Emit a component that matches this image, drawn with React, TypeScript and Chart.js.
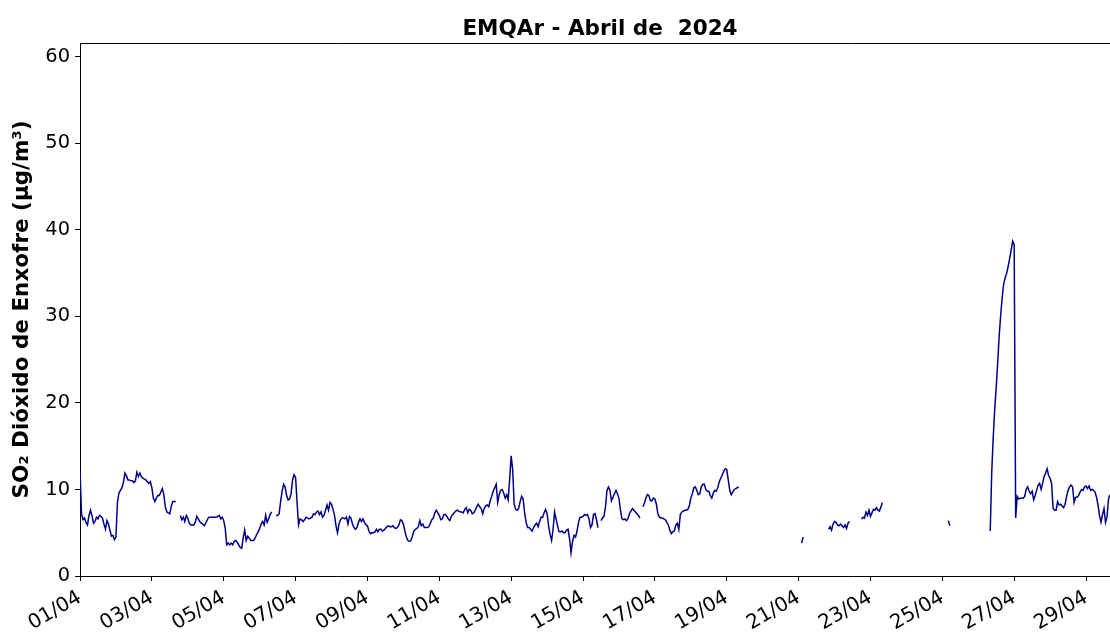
import React, { useEffect, useRef } from "react";
import { Chart, registerables } from "chart.js";

Chart.register(...registerables);

const chartTitle = "EMQAr - Abril de  2024";
const yAxisLabel = "SO₂ Dióxido de Enxofre (µg/m³)";

// hours since 01/04 00:00 at which date ticks are drawn
const tickHours = [0, 48, 96, 144, 192, 240, 288, 336, 384, 432, 480, 528, 576, 624, 672];
const tickLabels = ["01/04", "03/04", "05/04", "07/04", "09/04", "11/04", "13/04", "15/04", "17/04", "19/04", "21/04", "23/04", "25/04", "27/04", "29/04"];
const yTicks = [0, 10, 20, 30, 40, 50, 60];
const xMaxHour = 688;
const yMax = 61.6;

// hourly SO2 values (µg/m³), one array per day, null = no data
const day01 = [12.3, 7.2, 6.5, 6.7, 6.2, 5.9, 7.0, 7.6, 7.0, 6.1, 6.3, 6.8, 6.6, 7.0, 6.9, 6.7, 6.0, 5.4, 6.4, 6.0, 5.3, 4.6, 4.7, 4.2];
const day02 = [4.5, 8.5, 9.6, 9.9, 10.2, 10.8, 11.9, 11.6, 11.1, 11.1, 11.0, 11.0, 10.8, 11.0, 12.0, 11.5, 11.9, 11.5, 11.3, 11.2, 11.1, 10.9, 10.7, 10.9];
const day03 = [10.2, 9.0, 8.6, 9.0, 9.3, 9.3, 9.7, 10.1, 9.4, 8.0, 7.4, 7.3, 7.2, 8.1, 8.6, 8.6, 8.6, null, null, 7.0, 6.5, 6.8, 6.3, 7.0];
const day04 = [6.7, 6.1, 5.9, 5.9, 5.9, 6.2, 6.9, 6.6, 6.3, 6.1, 6.0, 5.8, 6.1, 6.5, 6.8, 6.8, 6.8, 6.8, 6.8, 6.8, 6.9, 7.0, 6.6, 6.8];
const day05 = [6.4, 5.5, 3.6, 3.8, 3.6, 3.8, 3.6, 4.0, 4.1, 3.9, 3.6, 3.3, 3.2, 4.4, 5.3, 4.1, 4.6, 4.4, 4.1, 4.1, 4.1, 4.4, 4.8, 5.1];
const day06 = [5.5, 6.0, 6.3, 5.9, 7.0, 6.2, 6.6, 7.1, 7.4, null, null, 7.0, 7.0, 7.2, 8.6, 9.8, 10.6, 10.3, 9.3, 8.8, 8.9, 9.5, 11.1, 11.7];
const day07 = [11.4, 8.5, 5.9, 6.6, 6.5, 6.3, 6.5, 6.8, 6.7, 6.6, 6.7, 6.8, 7.2, 7.1, 7.4, 7.5, 7.1, 7.4, 6.8, 7.0, 7.6, 8.2, 7.6, 8.5];
const day08 = [8.3, 7.7, 7.0, 5.8, 5.0, 6.0, 6.5, 6.7, 6.7, 6.6, 6.8, 6.0, 6.9, 6.7, 6.0, 5.6, 5.4, 5.6, 6.2, 6.6, 6.3, 6.6, 6.2, 5.9];
const day09 = [5.8, 5.2, 4.9, 5.0, 5.0, 5.1, 5.4, 5.1, 5.4, 5.4, 5.2, 5.3, 5.5, 5.7, 5.8, 5.7, 5.7, 5.8, 5.6, 5.5, 5.6, 5.9, 6.5, 6.4];
const day10 = [6.0, 5.2, 4.5, 4.1, 4.0, 4.1, 4.6, 5.2, 5.4, 5.5, 5.7, 6.4, 5.8, 6.0, 5.6, 5.6, 5.6, 5.7, 6.1, 6.5, 6.7, 7.3, 7.6, 7.3];
const day11 = [7.0, 6.5, 6.6, 7.1, 7.1, 6.9, 6.6, 6.4, 6.9, 7.1, 7.3, 7.5, 7.6, 7.5, 7.4, 7.4, 7.3, 7.7, 7.9, 7.3, 7.7, 7.6, 7.2, 7.3];
const day12 = [7.6, 8.0, 8.3, 8.0, 7.8, 7.2, 7.8, 8.1, 8.2, 8.0, 8.7, 9.2, 9.8, 10.2, 10.6, 8.5, 9.4, 9.9, 10.0, 9.6, 9.0, 9.4, 8.8, 11.2];
const day13 = [13.9, 12.3, 8.3, 7.7, 7.6, 7.8, 8.6, 9.2, 8.9, 7.3, 6.2, 5.6, 5.6, 5.4, 5.2, 5.6, 5.9, 6.1, 5.7, 6.3, 6.8, 6.8, 7.3, 7.7];
const day14 = [7.2, 5.8, 4.8, 4.1, 5.4, 7.4, 6.6, 5.8, 5.1, 5.1, 5.2, 5.0, 5.0, 5.3, 5.4, 4.3, 2.7, 4.0, 4.7, 4.5, 5.2, 6.2, 6.8, 6.8];
const day15 = [6.9, 7.1, 7.0, 7.1, 6.6, 5.6, 5.9, 7.1, 7.2, 6.5, 5.6, null, 6.4, 6.7, 6.9, 8.0, 9.9, 10.3, 9.9, 8.7, 9.1, 9.5, 9.9, 9.5];
const day16 = [9.0, 7.6, 6.6, 6.5, 6.6, 6.4, 6.6, 7.2, 7.5, 7.8, 7.6, 7.4, 7.2, 7.0, 6.7, null, 8.0, 8.4, 9.0, 9.4, 9.3, 8.7, 8.7, 9.0];
const day17 = [8.9, 8.3, 7.2, 6.8, 6.7, 6.7, 6.6, 6.5, 6.2, 5.9, 5.3, 4.9, 5.1, 5.2, 5.9, 6.1, 5.4, 7.1, 7.4, 7.5, 7.6, 7.6, 7.7, 8.1];
const day18 = [9.0, 9.5, 10.2, 10.3, 9.9, 9.4, 9.5, 10.3, 10.6, 10.6, 10.0, 9.8, 9.8, 9.3, 9.0, 9.6, 9.9, 9.8, 10.2, 10.9, 11.3, 11.7, 12.1, 12.4];
const day19 = [12.3, 11.1, 9.9, 9.4, 9.7, 10.0, 10.1, 10.2, 10.3, null, null, null, null, null, null, null, null, null, null, null, null, null, null, null];
const day20 = [null, null, null, null, null, null, null, null, null, null, null, null, null, null, null, null, null, null, null, null, null, null, null, null];
const day21 = [null, null, 3.8, 4.5, null, null, null, null, null, null, null, null, null, null, null, null, null, null, null, null, 5.4, 5.7, 5.3, 6.0];
const day22 = [6.3, 6.2, 5.9, 5.8, 6.0, 5.8, 5.6, 5.9, 5.5, 6.1, 6.3, null, null, null, null, null, null, null, 6.6, 6.8, 6.7, 7.4, 7.0, 7.6];
const day23 = [6.9, 7.3, 7.7, 7.6, 7.9, 7.6, 7.5, 8.0, 8.5, null, null, null, null, null, null, null, null, null, null, null, null, null, null, null];
const day24 = [null, null, null, null, null, null, null, null, null, null, null, null, null, null, null, null, null, null, null, null, null, null, null, null];
const day25 = [null, null, null, null, 6.4, 5.8, null, null, null, null, null, null, null, null, null, null, null, null, null, null, null, null, null, null];
const day26 = [null, null, null, null, null, null, null, null, 5.2, 12.0, 16.0, 19.3, 21.8, 24.7, 27.8, 30.2, 32.2, 33.8, 34.5, 35.0, 35.8, 36.7, 37.7, 38.7];
const day27 = [38.3, 6.7, 9.2, 8.9, 9.0, 9.0, 9.0, 9.2, 10.0, 10.3, 9.8, 9.5, 9.8, 8.8, 9.3, 9.9, 10.5, 10.7, 10.0, 10.7, 11.5, 11.9, 12.4, 11.6];
const day28 = [11.3, 10.7, 7.8, 7.6, 7.6, 8.6, 8.2, 8.3, 8.1, 7.9, 8.3, 9.2, 9.9, 10.3, 10.5, 10.3, 8.5, 9.1, 9.1, 9.3, 9.7, 10.0, 9.9, 10.3];
const day29 = [10.4, 10.1, 10.4, 9.9, 10.0, 9.9, 9.7, 9.1, 8.2, 7.0, 6.2, 7.1, 7.8, 6.2, 6.8, 8.9, 9.4];

const days = [day01, day02, day03, day04, day05, day06, day07, day08, day09, day10, day11, day12, day13, day14, day15,
  day16, day17, day18, day19, day20, day21, day22, day23, day24, day25, day26, day27, day28, day29];

const FONT = '"DejaVu Sans", "Noto Sans", sans-serif';

export default function App() {
  const canvasRef = useRef<HTMLCanvasElement | null>(null);

  useEffect(() => {
    document.body.style.margin = "0";
    const canvas = canvasRef.current;
    if (!canvas) return;

    const points = days.flatMap((arr, d) => arr.map((v, i) => ({ x: d * 24 + i, y: v })));

    const decor = {
      id: "decor",
      afterDraw(chart: any) {
        const { ctx, chartArea } = chart;
        ctx.save();
        // top spine
        ctx.strokeStyle = "#000";
        ctx.lineWidth = 1;
        ctx.beginPath();
        ctx.moveTo(chartArea.left, Math.round(chartArea.top) + 0.5);
        ctx.lineTo(chartArea.right, Math.round(chartArea.top) + 0.5);
        ctx.stroke();
        // title
        ctx.fillStyle = "#000";
        ctx.font = `bold 21.5px ${FONT}`;
        ctx.textAlign = "center";
        ctx.textBaseline = "alphabetic";
        ctx.fillText(chartTitle, 600, 35);
        // y axis label
        ctx.translate(22, (chartArea.top + chartArea.bottom) / 2);
        ctx.rotate(-Math.PI / 2);
        ctx.textBaseline = "middle";
        ctx.fillText(yAxisLabel, 0, 0);
        ctx.restore();
      },
    };

    const chart = new Chart(canvas, {
      type: "line",
      data: {
        datasets: [
          {
            data: points as any,
            borderColor: "#00008B",
            borderWidth: 1.5,
            pointRadius: 0,
            spanGaps: false,
            fill: false,
            tension: 0,
          },
        ],
      },
      options: {
        animation: false,
        responsive: false,
        devicePixelRatio: 1,
        layout: { padding: { top: 43, left: 0, right: 0, bottom: 0 } },
        plugins: {
          legend: { display: false },
          tooltip: { enabled: false },
          title: { display: false },
        },
        scales: {
          x: {
            type: "linear",
            min: 0,
            max: xMaxHour,
            afterBuildTicks: (s: any) => {
              s.ticks = tickHours.map((v) => ({ value: v }));
            },
            afterFit: (s: any) => {
              s.height = 56;
            },
            ticks: {
              autoSkip: false,
              minRotation: 30,
              maxRotation: 30,
              padding: 5,
              color: "#000",
              font: { family: FONT, size: 20 },
              callback: (v: any) => {
                const i = tickHours.indexOf(Number(v));
                return i >= 0 ? tickLabels[i] : "";
              },
            },
            grid: {
              display: true,
              drawOnChartArea: false,
              drawTicks: true,
              tickLength: 5,
              tickColor: "#000",
              tickWidth: 1,
            },
            border: { display: true, color: "#000", width: 1 },
          },
          y: {
            type: "linear",
            min: 0,
            max: yMax,
            afterBuildTicks: (s: any) => {
              s.ticks = yTicks.map((v) => ({ value: v }));
            },
            afterFit: (s: any) => {
              s.width = 80;
            },
            ticks: {
              padding: 5,
              color: "#000",
              font: { family: FONT, size: 19.4 },
            },
            grid: {
              display: true,
              drawOnChartArea: false,
              drawTicks: true,
              tickLength: 5,
              tickColor: "#000",
              tickWidth: 1,
            },
            border: { display: true, color: "#000", width: 1 },
          },
        },
      },
      plugins: [decor],
    });

    return () => chart.destroy();
  }, []);

  return (
    <div style={{ position: "absolute", left: 0, top: 0, width: 1110, height: 632, background: "#fff" }}>
      <canvas ref={canvasRef} width={1110} height={632} />
    </div>
  );
}
